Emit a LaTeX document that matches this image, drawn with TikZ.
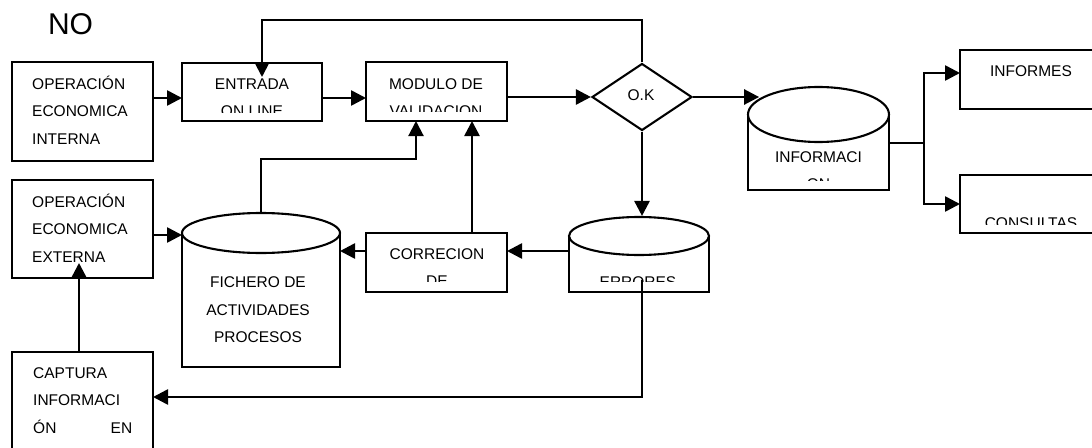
\documentclass[tikz,border=0pt]{standalone}
\usepackage{fontspec}
\setmainfont{Liberation Sans}
\usetikzlibrary{arrows.meta,shapes.geometric}

\tikzset{
  box/.style={draw, line width=2.1pt, rectangle, inner sep=0pt, outer sep=0pt, fill=white, anchor=north west},
  disc/.style={draw, line width=2.1pt, ellipse, inner sep=0pt, fill=white},
  lbl/.style={anchor=base, inner sep=0pt, font=\fontsize{15.5}{18}\selectfont},
  lbll/.style={lbl, anchor=base west},
  flow/.style={line width=2.6pt, -{Triangle[length=15pt,width=15pt]}},
  thinflow/.style={flow, line width=2.1pt},
  link/.style={line width=2.1pt},
}

\begin{document}
\begin{tikzpicture}[x=1pt, y=-1pt]
\useasboundingbox (0,0) rectangle (1092,447);

% title
\node[anchor=base, inner sep=0pt, font=\fontsize{30}{34}\selectfont] (no) at (70.5,34) {NO};

% process boxes
\node[box, minimum width=141pt, minimum height=99pt] (intern) at (12,62) {};
\node[box, minimum width=140pt, minimum height=58pt] (entrada) at (182,63) {};
\node[box, minimum width=141pt, minimum height=59pt] (modulo) at (366,62) {};
\node[box, minimum width=141pt, minimum height=98pt] (extern) at (12,180) {};
\node[box, minimum width=141pt, minimum height=59pt] (correc) at (366,233) {};
\node[box, minimum width=140pt, minimum height=59pt] (informes) at (960,50) {};
\node[box, minimum width=140pt, minimum height=58pt] (consultas) at (960,175) {};
\node[box, minimum width=141pt, minimum height=110pt] (captura) at (12,352) {};

% decision
\node[draw, diamond, line width=2.1pt, minimum width=100pt, minimum height=67pt,
      inner sep=0pt, aspect=1.49] (ok) at (642,97) {};
\node[lbl] (oktext) at (641,100) {O.K};

% data stores: body with an elliptic lid
\node[box, minimum width=141pt, minimum height=75.5pt] (infobody) at (748,114.5) {};
\node[disc, minimum width=141pt, minimum height=55pt] (infotop) at (818.5,114.5) {};
\node[box, minimum width=158pt, minimum height=134pt] (fichbody) at (182,233) {};
\node[disc, minimum width=158pt, minimum height=40pt] (fichtop) at (261,233) {};
\node[box, minimum width=140pt, minimum height=56pt] (errbody) at (569,236) {};
\node[disc, minimum width=140pt, minimum height=38pt] (errtop) at (639,236) {};

% labels
\node[lbll] at (32,89) {OPERACIÓN};
\node[lbll] at (32,116.5) {ECONOMICA};
\node[lbll] at (32,144) {INTERNA};

\node[lbll] at (32,207) {OPERACIÓN};
\node[lbll] at (32,234) {ECONOMICA};
\node[lbll] at (32,262) {EXTERNA};

\node[lbll] at (33,378) {CAPTURA};
\node[lbll] at (33,405) {INFORMACI};
\node[lbll] at (33,433) {\makebox[99pt][l]{ÓN\hfill EN}};

\node[lbl] at (258,287.3) {FICHERO DE};
\node[lbl] at (258,315.7) {ACTIVIDADES};
\node[lbl] at (258,342.3) {PROCESOS};

\node[lbl] at (1031,76) {INFORMES};

% labels cut off by the lower margin of their boxes
\begin{scope}
  \clip (entrada.north west) rectangle ([yshift=9pt]entrada.south east);
  \node[lbl] at (252,89) {ENTRADA};
  \node[lbl] at (252,116) {ON LINE};
\end{scope}
\begin{scope}
  \clip (modulo.north west) rectangle ([yshift=10pt]modulo.south east);
  \node[lbl] at (436,89) {MODULO DE};
  \node[lbl] at (436,116) {VALIDACION};
\end{scope}
\begin{scope}
  \clip (correc.north west) rectangle ([yshift=10.5pt]correc.south east);
  \node[lbl] at (437,259) {CORRECION};
  \node[lbl] at (437,286) {DE};
\end{scope}
\begin{scope}
  \clip (errbody.north west) rectangle ([yshift=10.5pt]errbody.south east);
  \node[lbl] at (638,287) {ERRORES};
\end{scope}
\begin{scope}
  \clip (infobody.north west) rectangle ([yshift=9.5pt]infobody.south east);
  \node[lbl] at (818.5,162) {INFORMACI};
  \node[lbl] at (818.5,189) {ON};
\end{scope}
\begin{scope}
  \clip (consultas.north west) rectangle ([yshift=8.5pt]consultas.south east);
  \node[lbl] at (1031,228) {CONSULTAS};
\end{scope}

% connectors
\draw[flow] (intern.east |- 0,98) -- (entrada.west |- 0,98);
\draw[flow] (entrada.east |- 0,98) -- (modulo.west |- 0,98);
\draw[flow] (modulo.east |- ok.west) -- (ok.west);
\draw[thinflow] (ok.north) |- ([xshift=10pt]entrada.north |- 0,20) -- ([xshift=10pt,yshift=-14pt]entrada.north);
\draw[flow] (ok.east) -- (ok.east -| infotop.165);
\draw[flow] (ok.south) -- (ok.south |- errtop.north);

\draw[link] (infobody.east |- infotop.south) -- ++(35,0) coordinate (branch);
\draw[flow] (branch) |- ([yshift=6.5pt]informes.west);
\draw[flow] (branch) |- (consultas.west);

\draw[flow] (extern.east |- 0,235) -- (fichbody.west |- 0,235);
\draw[thinflow] (fichtop.north) -- ++(0,-53) -| ([xshift=-20.5pt]modulo.south);
\draw[flow] ([xshift=35.5pt]correc.north) -- ([xshift=35.5pt]correc.north |- modulo.south);
\draw[flow] (correc.west |- 0,251) -- (fichbody.east |- 0,251);
\draw[flow] (errbody.west |- 0,251) -- (correc.east |- 0,251);
\draw[flow] (ok.south |- 0,280) |- (captura.east |- 0,397);
\draw[flow] ([xshift=-3.5pt]captura.north) -- ([xshift=-3.5pt,yshift=15pt]extern.south);
\end{tikzpicture}
\end{document}
